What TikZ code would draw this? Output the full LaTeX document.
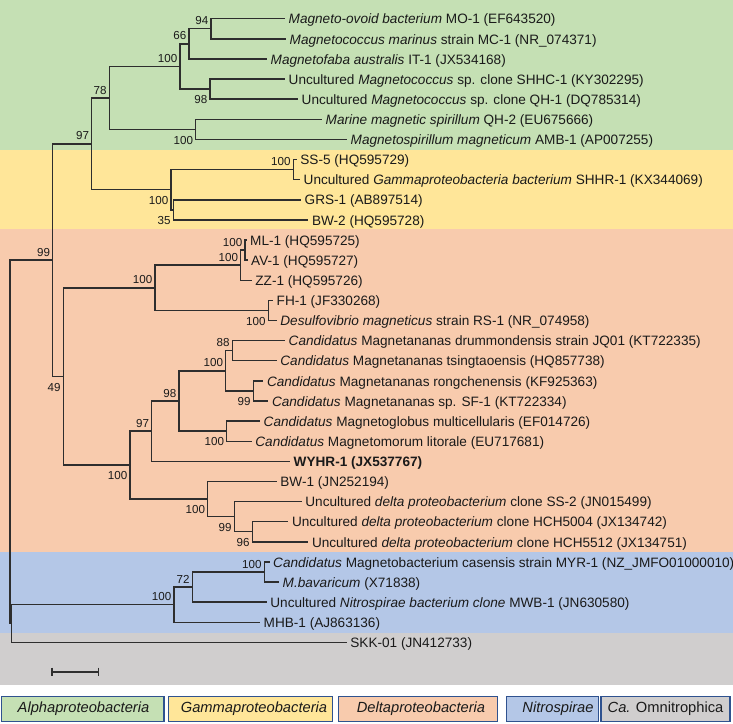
\documentclass[tikz,border=0pt]{standalone}
\usepackage{fontspec}
\setmainfont{Liberation Sans}
\definecolor{cgreen}{HTML}{C5E0B4}
\definecolor{cyellow}{HTML}{FFE699}
\definecolor{corange}{HTML}{F8CBAD}
\definecolor{cblue}{HTML}{B4C7E7}
\definecolor{cgray}{HTML}{D0CECE}
\definecolor{cborder}{HTML}{2F528F}
\definecolor{linec}{HTML}{2E2E2E}
\definecolor{txt}{HTML}{1A1A1A}
\tikzset{
  br/.style={draw=linec,line width=1.45pt},
  leaf/.style={anchor=base west,inner sep=0pt,font=\fontsize{13.6}{15}\selectfont,text=txt},
  bs/.style={anchor=base east,inner sep=0pt,font=\fontsize{11.6}{13}\selectfont,text=txt},
  legbox/.style={draw=cborder,line width=1.5pt},
  legtext/.style={inner sep=0pt,font=\fontsize{14.7}{16}\selectfont\itshape,text=txt}
}
\newcommand\bsU[3]{\node[bs] (#1) at ([xshift=-2.5pt,yshift=3.9pt]#2) {#3};}
\newcommand\bsD[3]{\node[bs] (#1) at ([xshift=-2.5pt,yshift=-14.8pt]#2) {#3};}
\newcommand\lf[3]{\node[leaf] (#1) at ([xshift=3.5pt,yshift=-5.2pt]#2) {#3};}
\begin{document}
\begin{tikzpicture}[x=1pt,y=-1pt]
\useasboundingbox (0,0) rectangle (733,723);
% background bands
\fill[cgreen]  (0,0) rectangle (733,150);
\fill[cyellow] (0,150) rectangle (733,229.3);
\fill[corange] (0,229.3) rectangle (733,551.7);
\fill[cblue]   (0,551.7) rectangle (733,632.5);
\fill[cgray]   (0,632.5) rectangle (733,685);

% leaf ends
\coordinate (l1) at (285,18.70);
\coordinate (l2) at (286,38.82);
\coordinate (l3) at (267,58.94);
\coordinate (l4) at (285,79.06);
\coordinate (l5) at (298,99.18);
\coordinate (l6) at (322,119.30);
\coordinate (l7) at (347,139.42);
\coordinate (l8) at (296.7,159.54);
\coordinate (l9) at (300,179.66);
\coordinate (l10) at (301,199.78);
\coordinate (l11) at (308.3,219.90);
\coordinate (l12) at (246.5,240.02);
\coordinate (l13) at (247.5,260.14);
\coordinate (l14) at (251.7,280.26);
\coordinate (l15) at (273,300.38);
\coordinate (l16) at (276.7,320.50);
\coordinate (l17) at (285,340.62);
\coordinate (l18) at (276.7,360.74);
\coordinate (l19) at (263.3,380.86);
\coordinate (l20) at (268.3,400.98);
\coordinate (l21) at (260,421.10);
\coordinate (l22) at (251.7,441.22);
\coordinate (l23) at (290,461.34);
\coordinate (l24) at (276.7,481.46);
\coordinate (l25) at (301.7,501.58);
\coordinate (l26) at (288.3,521.70);
\coordinate (l27) at (308.3,541.82);
\coordinate (l28) at (269.5,561.94);
\coordinate (l29) at (279,582.06);
\coordinate (l30) at (266.7,602.18);
\coordinate (l31) at (260,622.30);
\coordinate (l32) at (346.7,642.42);

% internal nodes
\coordinate (A94) at (211,28.76);
\coordinate (A66) at (189,43.85);
\coordinate (A98) at (210,89.12);
\coordinate (A100a) at (180,66.49);
\coordinate (A100b) at (195.7,129.36);
\coordinate (A78) at (109.3,97.93);
\coordinate (GSS) at (293.3,169.60);
\coordinate (G35) at (173.3,209.84);
\coordinate (G100) at (171,189.72);
\coordinate (A97) at (91.7,143.83);
\coordinate (D100a) at (245,250.08);
\coordinate (D100b) at (240.7,265.17);
\coordinate (D100d) at (268.3,310.44);
\coordinate (D100c) at (155,287.81);
\coordinate (D88) at (232.3,350.68);
\coordinate (D99) at (253.3,390.92);
\coordinate (D100g) at (225.7,370.80);
\coordinate (D100h) at (226.7,431.16);
\coordinate (D98) at (179,400.98);
\coordinate (D97) at (151.7,431.16);
\coordinate (D96) at (252.3,531.76);
\coordinate (D99b) at (234.3,516.67);
\coordinate (D100f) at (207.7,499.07);
\coordinate (D100e) at (130,465.12);
\coordinate (D49) at (63.3,376.47);
\coordinate (R99) at (52.7,260.15);
\coordinate (N100a) at (264.3,572.00);
\coordinate (N72) at (192.3,587.09);
\coordinate (N100b) at (174,604.70);
\coordinate (R1) at (11.7,623.56);
\coordinate (R0) at (10,441.86);

% branches
\foreach \p/\c in {A94/l1,A94/l2,A66/A94,A66/l3,A98/l4,A98/l5,A100a/A66,A100a/A98,
  A100b/l6,A100b/l7,A78/A100a,A78/A100b,GSS/l8,GSS/l9,G35/l10,G35/l11,G100/GSS,G100/G35,
  A97/A78,A97/G100,D100a/l12,D100a/l13,D100b/D100a,D100b/l14,D100d/l15,D100d/l16,
  D100c/D100b,D100c/D100d,D88/l17,D88/l18,D99/l19,D99/l20,D100g/D88,D100g/D99,
  D100h/l21,D100h/l22,D98/D100g,D98/D100h,D97/D98,D97/l23,D96/l26,D96/l27,
  D99b/l25,D99b/D96,D100f/l24,D100f/D99b,D100e/D97,D100e/D100f,D49/D100c,D49/D100e,
  R99/A97,R99/D49,N100a/l28,N100a/l29,N72/N100a,N72/l30,N100b/N72,N100b/l31,
  R1/N100b,R1/l32,R0/R99,R0/R1}
  \draw[br] (\p) |- (\c);

% bootstrap values
\bsU{bA94}{A94}{94}
\bsU{bA66}{A66}{66}
\bsU{bA100a}{A100a}{100}
\bsD{bA98}{A98}{98}
\bsD{bA100b}{A100b}{100}
\bsU{bA78}{A78}{78}
\bsU{bA97}{A97}{97}
\bsU{bGSS}{GSS}{100}
\bsD{bG100}{G100}{100}
\bsD{bG35}{G35}{35}
\bsU{bR99}{R99}{99}
\bsU{bD100a}{D100a}{100}
\bsU{bD100b}{D100b}{100}
\bsU{bD100c}{D100c}{100}
\bsD{bD100d}{D100d}{100}
\bsD{bD49}{D49}{49}
\bsU{bD88}{D88}{88}
\bsD{bD99}{D99}{99}
\bsU{bD100g}{D100g}{100}
\bsD{bD100h}{D100h}{100}
\bsU{bD98}{D98}{98}
\bsU{bD97}{D97}{97}
\bsD{bD100e}{D100e}{100}
\bsD{bD100f}{D100f}{100}
\bsD{bD99b}{D99b}{99}
\bsD{bD96}{D96}{96}
\bsU{bN100a}{N100a}{100}
\bsU{bN72}{N72}{72}
\bsU{bN100b}{N100b}{100}

% leaf labels
\lf{t1}{l1}{\textit{Magneto-ovoid bacterium} MO-1 (EF643520)}
\lf{t2}{l2}{\textit{Magnetococcus marinus} strain MC-1 (NR\_074371)}
\lf{t3}{l3}{\textit{Magnetofaba australis} IT-1 (JX534168)}
\lf{t4}{l4}{Uncultured \textit{Magnetococcus} sp. clone SHHC-1 (KY302295)}
\lf{t5}{l5}{Uncultured \textit{Magnetococcus} sp. clone QH-1 (DQ785314)}
\lf{t6}{l6}{\textit{Marine magnetic spirillum} QH-2 (EU675666)}
\lf{t7}{l7}{\textit{Magnetospirillum magneticum} AMB-1 (AP007255)}
\lf{t8}{l8}{SS-5 (HQ595729)}
\lf{t9}{l9}{Uncultured \textit{Gammaproteobacteria bacterium} SHHR-1 (KX344069)}
\lf{t10}{l10}{GRS-1 (AB897514)}
\lf{t11}{l11}{BW-2 (HQ595728)}
\lf{t12}{l12}{ML-1 (HQ595725)}
\lf{t13}{l13}{AV-1 (HQ595727)}
\lf{t14}{l14}{ZZ-1 (HQ595726)}
\lf{t15}{l15}{FH-1 (JF330268)}
\lf{t16}{l16}{\textit{Desulfovibrio magneticus} strain RS-1 (NR\_074958)}
\lf{t17}{l17}{\textit{Candidatus} Magnetananas drummondensis strain JQ01 (KT722335)}
\lf{t18}{l18}{\textit{Candidatus} Magnetananas tsingtaoensis (HQ857738)}
\lf{t19}{l19}{\textit{Candidatus} Magnetananas rongchenensis (KF925363)}
\lf{t20}{l20}{\textit{Candidatus} Magnetananas sp. SF-1 (KT722334)}
\lf{t21}{l21}{\textit{Candidatus} Magnetoglobus multicellularis (EF014726)}
\lf{t22}{l22}{\textit{Candidatus} Magnetomorum litorale (EU717681)}
\lf{t23}{l23}{\textbf{WYHR-1 (JX537767)}}
\lf{t24}{l24}{BW-1 (JN252194)}
\lf{t25}{l25}{Uncultured \textit{delta proteobacterium} clone SS-2 (JN015499)}
\lf{t26}{l26}{Uncultured \textit{delta proteobacterium} clone HCH5004 (JX134742)}
\lf{t27}{l27}{Uncultured \textit{delta proteobacterium} clone HCH5512 (JX134751)}
\lf{t28}{l28}{\textit{Candidatus} Magnetobacterium casensis strain MYR-1 (NZ\_JMFO01000010)}
\lf{t29}{l29}{\textit{M.bavaricum} (X71838)}
\lf{t30}{l30}{Uncultured \textit{Nitrospirae bacterium clone} MWB-1 (JN630580)}
\lf{t31}{l31}{MHB-1 (AJ863136)}
\lf{t32}{l32}{SKK-01 (JN412733)}

% scale bar
\coordinate (s1) at (51.7,671.7);
\coordinate (s2) at (98.3,671.7);
\draw[draw=linec,line width=1.8pt] (s1) -- (s2);
\draw[draw=linec,line width=1.6pt] ([yshift=4pt]s1) -- ([yshift=-4pt]s1);
\draw[draw=linec,line width=1.6pt] ([yshift=4pt]s2) -- ([yshift=-4pt]s2);

% legend
\draw[legbox,fill=cgreen]  (1.5,696.5) rectangle (164,721.5);
\draw[legbox,fill=cyellow] (168.3,696.5) rectangle (332.7,721.5);
\draw[legbox,fill=corange] (338.3,696.5) rectangle (497.5,721.5);
\draw[legbox,fill=cblue]   (506.7,696.5) rectangle (598.3,721.5);
\draw[legbox,fill=cgray]   (601,696.5) rectangle (730,721.5);
\node[legtext] (lg1) at (83.5,709) {Alphaproteobacteria};
\node[legtext] (lg2) at (254,709) {Gammaproteobacteria};
\node[legtext] (lg3) at (421,709) {Deltaproteobacteria};
\node[legtext] (lg4) at (558,709) {Nitrospirae};
\node[inner sep=0pt,font=\fontsize{14.7}{16}\selectfont,text=txt] (lg5) at (665.5,709) {\textit{Ca.} Omnitrophica};
\end{tikzpicture}
\end{document}
